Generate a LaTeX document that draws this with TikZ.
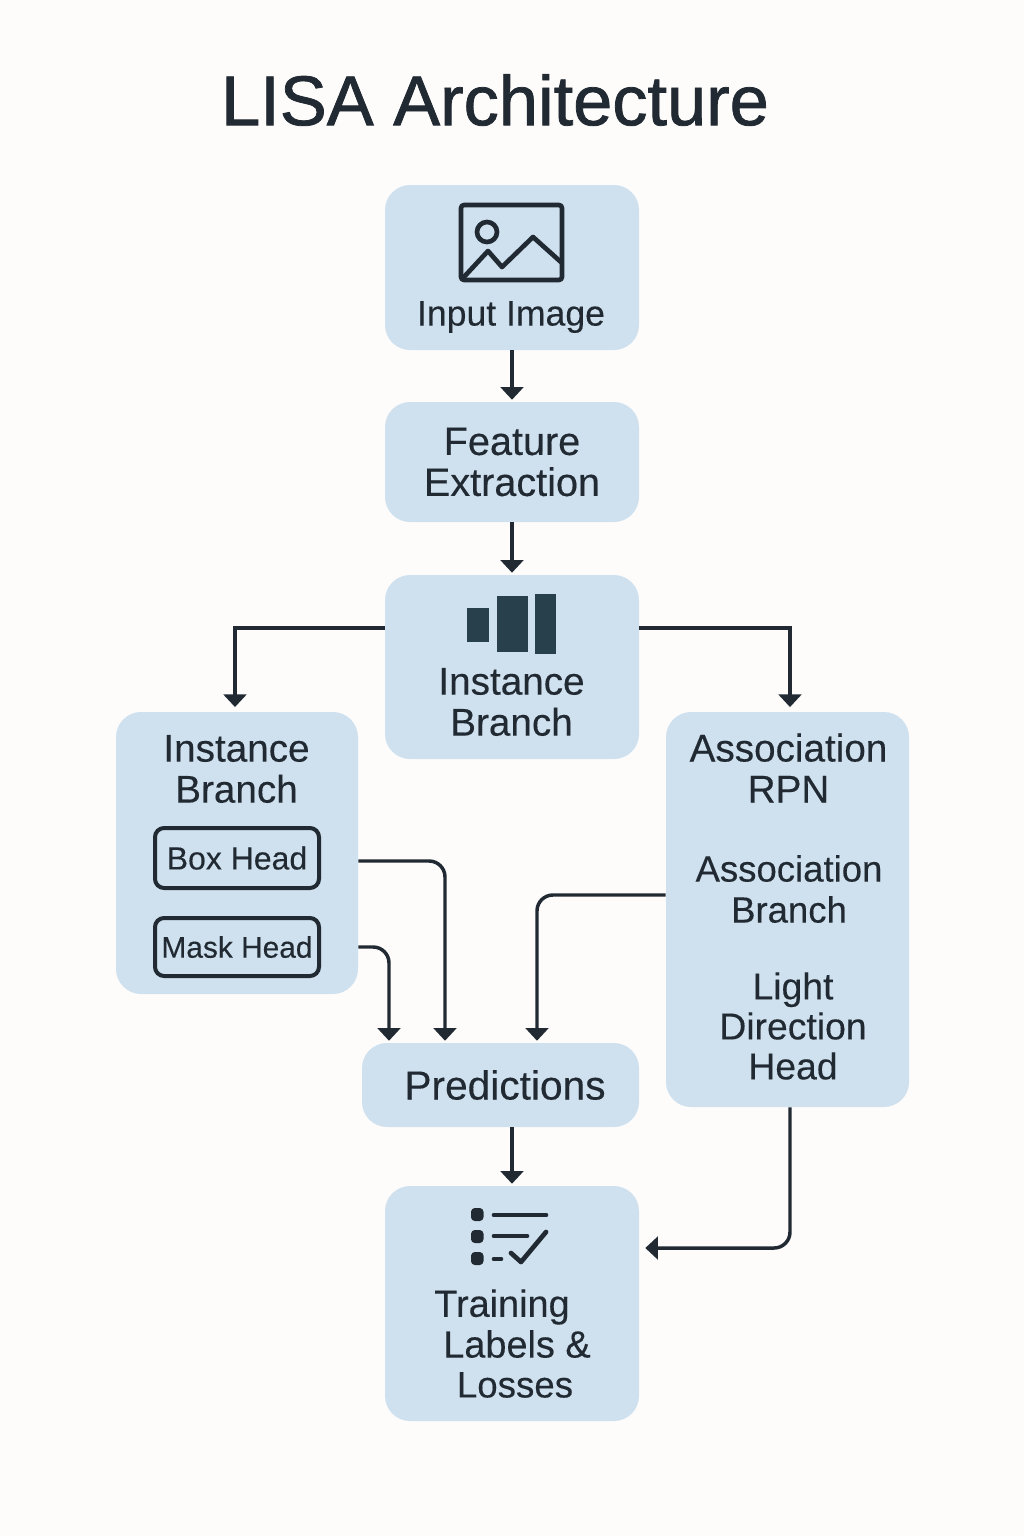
\documentclass[tikz,border=0pt]{standalone}
\usepackage{xcolor}
\usepackage{fontspec}
\setmainfont[FakeBold=0.25]{Liberation Sans}
\newfontfamily\titlefont[FakeBold=1.1]{Liberation Sans}
\usetikzlibrary{arrows.meta,positioning}

\definecolor{boxblue}{RGB}{207,224,238}
\definecolor{inkdark}{RGB}{33,42,50}
\definecolor{barfill}{RGB}{39,64,76}
\definecolor{paperwhite}{RGB}{253,252,251}

\tikzset{
    textsize/.style={
        font=\fontsize{#1}{30.75}\selectfont
    },
    panel/.style={
        fill=boxblue,
        rounded corners=0.66cm,
        inner sep=0pt,
        text=inkdark,
        align=center
    },
    headbox/.style={
        draw=inkdark,
        line width=3pt,
        rounded corners=0.24cm,
        inner sep=0pt,
        minimum width=123pt,
        text=inkdark
    },
    caption/.style={
        inner sep=0pt,
        text=inkdark,
        align=center
    },
    flow/.style={
        draw=inkdark,
        line width=2.6pt,
        rounded corners=0.42cm,
        -{Triangle[length=9.5pt,width=17pt]},
        shorten >=1.5pt
    },
    icon/.style={
        draw=inkdark,
        line width=3.5pt,
        line join=round
    }
}

\begin{document}
\begin{tikzpicture}[x=0.75pt,y=-0.75pt]
                \useasboundingbox[fill=paperwhite] (0,0) rectangle (1024,1536);

                \node[
                    inner sep=0pt,
                    text=inkdark,
                    font=\titlefont\fontsize{52.8}{56}\selectfont
                    ] (title) at (495,100) {LISA Architecture};

                \node[panel, minimum width=190.5pt, minimum height=123.75pt] (inputbox) at (512,267.5) {};
                \node[panel, textsize=29.7, minimum width=190.5pt, minimum height=90pt] (featurebox) at (512,462) {Feature\\Extraction};
                \node[panel, minimum width=190.5pt, minimum height=138pt] (instancebox) at (512,667) {};
                \node[panel, minimum width=181.5pt, minimum height=211.5pt] (branchbox) at (237,853) {};
                \node[panel, minimum width=182.25pt, minimum height=296.25pt] (assocbox) at (787.5,909.5) {};
                \node[panel, minimum width=207.75pt, minimum height=63pt] (predbox) at (500.5,1085) {};
                \node[panel, minimum width=190.5pt, minimum height=176.25pt] (trainbox) at (512,1303.5) {};

                \node[caption, textsize=26.7] (inputtext) at (511,317) {Input Image};
                \node[caption, textsize=29] (instancetext) at (511.5,702) {Instance\\Branch};
                \node[caption, textsize=29] (branchtext) at (236.5,769) {Instance\\Branch};
                \node[caption, textsize=29] (rpntext) at (788.5,768) {Association\\RPN};
                \node[caption, textsize=27.4] (assoctext) at (789,889) {Association\\Branch};
                \node[caption, textsize=28] (lighttext) at (793,1026) {Light\\[-0.75pt]Direction\\[-0.75pt]Head};
                \node[caption, textsize=30.5] (predtext) at (505,1085) {Predictions};
                \node[caption, textsize=28.4] (trainingtext) at (502,1307) {Training};
                \node[caption, textsize=28.4] (labelstext) at (517,1344) {Labels \&};
                \node[caption, textsize=27.5] (lossestext) at (515,1385) {Losses};

                \node[headbox, textsize=24, minimum height=45pt] (boxhead) at (237,858) {Box Head};
                \node[headbox, textsize=22.4, minimum height=43.5pt] (maskhead) at (237,947) {Mask Head};

                \draw[icon, rounded corners=0.08cm] (461,205) rectangle (562,280);
                \draw[icon] (487,232) circle (10);
                \draw[icon] (463,278) -- (488,251) -- (502,267) -- (533,237) -- (562,263);

                \fill[barfill] (467,608) rectangle (489,642);
                \fill[barfill] (497,596) rectangle (528,652);
                \fill[barfill] (535,594) rectangle (556,654);

                \foreach \doty in {1214.5,1236.5,1258.5} {
                    \fill[inkdark, rounded corners=0.1cm] (471,\doty-6.5) rectangle (483.5,\doty+6.5);
                }
                \draw[icon, line cap=round] (494,1215) -- (546,1215);
                \draw[icon, line cap=round] (494,1236) -- (527,1236);
                \draw[icon, line cap=round] (494,1259) -- (501,1259);
                \draw[icon, line cap=round] (511,1253) -- (521,1262) -- (546,1232);

                \draw[flow] (inputbox.south) -- (featurebox.north);
                \draw[flow] (featurebox.south) -- (instancebox.north);
                \draw[flow, sharp corners, shorten >=3.5pt] (instancebox.west |- 0,628) -| (branchbox.north -| 235,0);
                \draw[flow, sharp corners, shorten >=3.5pt] (instancebox.east |- 0,628) -| (assocbox.north -| 790,0);
                \draw[flow] (branchbox.east |- 0,861) -| (predbox.north -| 445,0);
                \draw[flow] (branchbox.east |- 0,947) -| (predbox.north -| 389,0);
                \draw[flow] (assocbox.west |- 0,895) -| (predbox.north -| 537,0);
                \draw[flow] (predbox.south -| 512,0) -- (trainbox.north);
                \draw[flow, shorten >=4.5pt] (assocbox.south -| 790,0) |- (trainbox.east |- 0,1248);
            \end{tikzpicture}
\end{document}
